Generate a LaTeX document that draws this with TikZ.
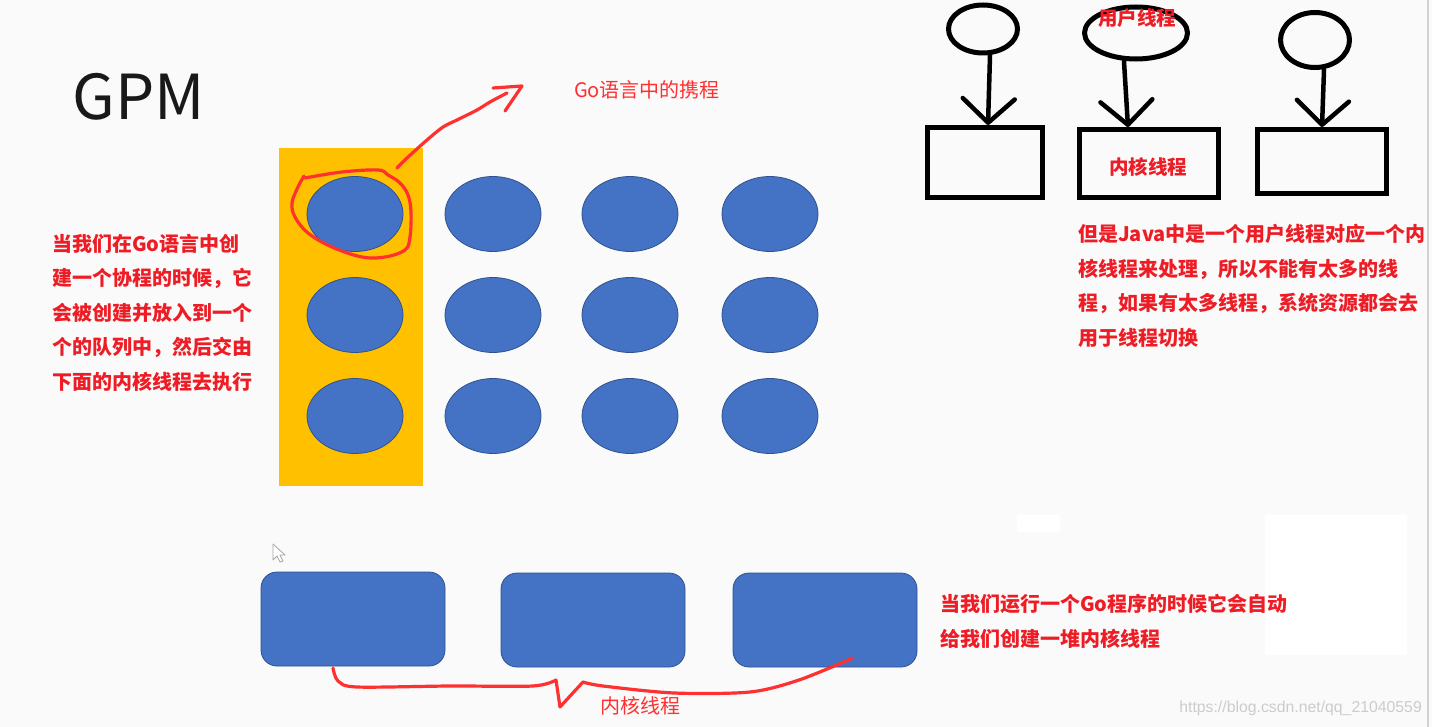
\documentclass[tikz,border=0pt]{standalone}
\usepackage{fontspec}
\setmainfont{Noto Sans CJK SC}
\setsansfont{Noto Sans CJK SC}
\newfontfamily\wmfont{Liberation Sans}
\usetikzlibrary{arrows.meta, shapes.geometric}
\definecolor{mBlue}{HTML}{4472C4}
\definecolor{mBlueLine}{HTML}{2F528F}
\definecolor{mGold}{HTML}{FFC000}
\definecolor{mRed}{HTML}{FF3030}
\definecolor{mInk}{HTML}{EE1C25}
\definecolor{mPaper}{HTML}{F9FAF9}

\tikzset{
  goro/.style={ellipse, fill=mBlue, draw=mBlueLine, line width=0.8pt,
    minimum width=96, minimum height=75, inner sep=0pt},
  mthread/.style={rectangle, rounded corners=16pt, fill=mBlue, draw=mBlueLine,
    line width=0.8pt, minimum width=184, minimum height=94, inner sep=0pt},
  uthread/.style={ellipse, draw=black, line width=5pt, inner sep=0pt},
  kthread/.style={rectangle, draw=black, line width=5pt, inner sep=0pt},
  karrow/.style={line width=4.5pt, line cap=round,
    -{Straight Barb[length=24pt, width=52pt, round]}},
  hand/.style={draw=mRed, line width=3.2pt, line cap=round, line join=round},
  note/.style={text=mInk, font=\bfseries\fontsize{20}{34.5}\selectfont,
    align=left, inner sep=0pt, anchor=north west},
  tag/.style={text=mRed, font=\fontsize{20}{24}\selectfont, inner sep=0pt}
}

\begin{document}
\begin{tikzpicture}[x=1pt, y=-1pt]
  \useasboundingbox (0,0) rectangle (1432,727);
  \fill[mPaper] (0,0) rectangle (1432,727);
  \fill[white] (1017,515) rectangle (1060,532);
  \fill[white] (1265,515) rectangle (1407,655);
  \draw[gray!35, line width=2pt] (1428,0) -- (1428,727);

  \node[text=black!90, font=\fontsize{62}{70}\selectfont] (gpm) at (139,97) {GPM};

  % run queue with goroutines
  \fill[mGold] (279,148) rectangle (423,486);
  \foreach \cx [count=\i] in {355,493,630,770}
    \foreach \cy [count=\j] in {214,315,416}
      \node[goro] (go-\i-\j) at (\cx,\cy) {};

  % kernel threads
  \node[mthread] (m1) at (353,619) {};
  \node[mthread] (m2) at (593,620) {};
  \node[mthread] (m3) at (825,620) {};

  % mouse pointer
  \draw[gray!70, fill=white, line width=0.8pt, line join=round]
    (273,544) -- (273,560) -- (277,556) -- (280,562) -- (283,561)
    -- (280,555) -- (285,555) -- cycle;

  % hand-drawn marks
  \draw[hand] plot[smooth, tension=0.6] coordinates {(305,178) (342,172) (378,170)
    (388,175) (400,183) (408,195) (411,212) (410,237) (405,250) (385,257) (362,257)
    (332,247) (308,233) (295,217) (292,203) (298,187) (304,176)};
  \draw[hand] plot[smooth] coordinates {(397,168) (407,158) (427,140) (443,127)
    (457,120) (477,110) (490,102) (507,93)};
  \draw[hand] (493,88) -- (522,86) -- (505,111);
  \draw[hand] plot[smooth] coordinates {(333,668) (338,681) (357,687) (450,686)
    (533,686) (556,680)} -- (560,707) -- plot[smooth] coordinates {(583,682)
    (603,686) (674,693) (750,692) (799,680) (853,658)};

  \node[tag] (gotag) at (647,90) {Go语言中的携程};
  \node[tag] (ktag) at (640,706) {内核线程};

  \node[note] (left) at (52,234) {当我们在Go语言中创\\建一个协程的时候，它\\会被创建并放入到一个\\个的队列中，然后交由\\下面的内核线程去执行};

  % user threads mapped to kernel threads
  \node[uthread, minimum width=69, minimum height=48] (u1) at (983,29) {};
  \node[uthread, minimum width=103, minimum height=52] (u2) at (1136,33) {};
  \node[uthread, minimum width=69, minimum height=55] (u3) at (1315,40) {};
  \node[kthread, minimum width=115, minimum height=70] (k1) at (985,162.5) {};
  \node[kthread, minimum width=139, minimum height=68] (k2) at (1149,163.5) {};
  \node[kthread, minimum width=129, minimum height=64] (k3) at (1322,161.5) {};
  \draw[karrow] ([xshift=7]u1.south) -- ([xshift=3]k1.north);
  \draw[karrow] ([xshift=-12]u2.south) -- ([xshift=-21]k2.north);
  \draw[karrow] ([xshift=9]u3.south) -- ([xshift=0]k3.north);
  \node[text=mInk, font=\bfseries\fontsize{19.5}{22}\selectfont] (utag) at (1137,18) {用户线程};
  \node[text=mInk, font=\bfseries\fontsize{19.5}{22}\selectfont] (ktag2) at (1148,167) {内核线程};

  \node[note] (right) at (1078,224) {但是Java中是一个用户线程对应一个内\\核线程来处理，所以不能有太多的线\\程，如果有太多线程，系统资源都会去\\用于线程切换};

  \node[note] (bottom) at (940,594) {当我们运行一个Go程序的时候它会自动\\给我们创建一堆内核线程};

  \node[text=gray!40, font=\wmfont\fontsize{15.8}{18}\selectfont, anchor=east,
    inner sep=0pt] (wm) at (1422,708) {https://blog.csdn.net/qq\_21040559};
\end{tikzpicture}
\end{document}
